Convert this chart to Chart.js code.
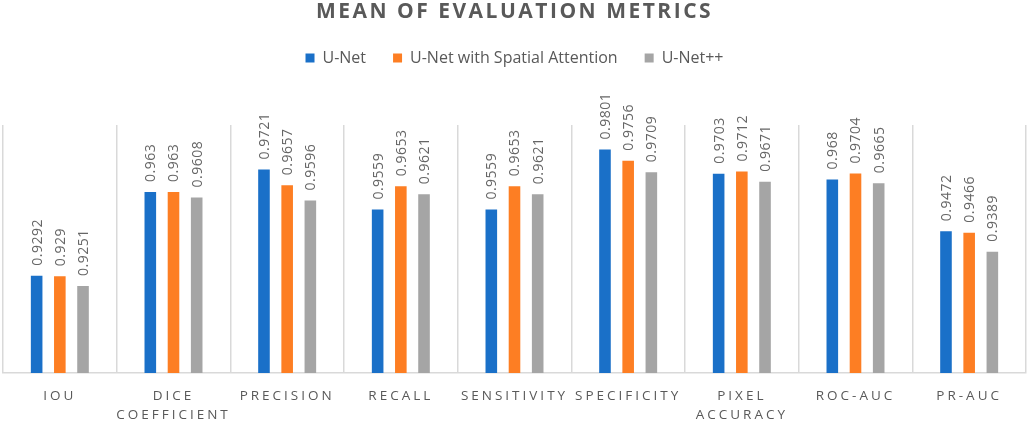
<!DOCTYPE html>
<html>
<head>
<meta charset="utf-8">
<script src="https://cdn.jsdelivr.net/npm/chart.js@4"></script>
<style>
  html, body { margin: 0; padding: 0; background: #fff; }
  #wrap { width: 1031px; height: 422px; }
</style>
</head>
<body>
<div id="wrap"><canvas id="chart"></canvas></div>
<script>
// データ
const chartTitle = 'MEAN OF EVALUATION METRICS';
const categories = ['IOU', ['DICE', 'COEFFICIENT'], 'PRECISION', 'RECALL', 'SENSITIVITY',
    'SPECIFICITY', ['PIXEL', 'ACCURACY'], 'ROC-AUC', 'PR-AUC'];
const seriesNames = ['U-Net', 'U-Net with Spatial Attention', 'U-Net++'];
const unetValues = [0.9292, 0.963, 0.9721, 0.9559, 0.9559, 0.9801, 0.9703, 0.968, 0.9472];
const attentionValues = [0.929, 0.963, 0.9657, 0.9653, 0.9653, 0.9756, 0.9712, 0.9704, 0.9466];
const unetppValues = [0.9251, 0.9608, 0.9596, 0.9621, 0.9621, 0.9709, 0.9671, 0.9665, 0.9389];

const colors = ['#1a70c8', '#fd7e23', '#a5a5a5'];
const textColor = '#595959';
const fontFamily = '"Open Sans", "DejaVu Sans", sans-serif';

// 軸ラベルに字間を付けるためのカテゴリ軸
class SpacedCategoryScale extends Chart.CategoryScale {
    drawLabels(chartArea) {
        const ctx = this.ctx;
        ctx.save();
        ctx.letterSpacing = '3px';
        super.drawLabels(chartArea);
        ctx.restore();
    }
}
SpacedCategoryScale.id = 'spacedCategory';
SpacedCategoryScale.defaults = Chart.CategoryScale.defaults;
Chart.register(SpacedCategoryScale);

// 凡例の下に余白を追加
const legendMargin = {
    id: 'legendMargin',
    beforeInit(chart) {
        const fit = chart.legend.fit;
        chart.legend.fit = function () {
            fit.bind(chart.legend)();
            this.height += 49;
        };
    }
};

// タイトル（字間付き）
const spacedTitle = {
    id: 'spacedTitle',
    afterDraw(chart) {
        const ctx = chart.ctx;
        ctx.save();
        ctx.letterSpacing = '2.5px';
        ctx.font = 'bold 21px ' + fontFamily;
        ctx.fillStyle = textColor;
        ctx.textAlign = 'center';
        ctx.textBaseline = 'middle';
        ctx.fillText(chartTitle, chart.width / 2 - 1, 12);
        ctx.restore();
    }
};

// 棒の上に縦書きの値ラベル
const valueLabels = {
    id: 'valueLabels',
    afterDatasetsDraw(chart) {
        const ctx = chart.ctx;
        ctx.save();
        ctx.font = '14px ' + fontFamily;
        ctx.fillStyle = '#666666';
        ctx.letterSpacing = '0.5px';
        ctx.textAlign = 'left';
        ctx.textBaseline = 'middle';
        chart.data.datasets.forEach((ds, i) => {
            const meta = chart.getDatasetMeta(i);
            meta.data.forEach((bar, j) => {
                ctx.save();
                ctx.translate(bar.x + 1, bar.y - 10);
                ctx.rotate(-Math.PI / 2);
                ctx.fillText(String(ds.data[j]), 0, 0);
                ctx.restore();
            });
        });
        ctx.restore();
    }
};

new Chart(document.getElementById('chart'), {
    type: 'bar',
    data: {
        labels: categories,
        datasets: [
            { label: seriesNames[0], data: unetValues, backgroundColor: colors[0] },
            { label: seriesNames[1], data: attentionValues, backgroundColor: colors[1] },
            { label: seriesNames[2], data: unetppValues, backgroundColor: colors[2] }
        ]
    },
    plugins: [legendMargin, spacedTitle, valueLabels],
    options: {
        responsive: true,
        maintainAspectRatio: false,
        animation: false,
        datasets: {
            bar: { categoryPercentage: 0.612, barPercentage: 0.5 }
        },
        layout: { padding: { top: 23, left: 3, right: 5, bottom: 0 } },
        plugins: {
            title: { display: false },
            tooltip: { enabled: false },
            legend: {
                position: 'top',
                labels: {
                    boxWidth: 9,
                    boxHeight: 9,
                    padding: 27,
                    color: textColor,
                    font: { family: fontFamily, size: 16 }
                }
            }
        },
        scales: {
            x: {
                type: 'spacedCategory',
                afterFit(scale) { scale.height = 49; },
                grid: { display: true, offset: true, drawTicks: false, color: '#d9d9d9', lineWidth: 1.5 },
                border: { display: true, color: '#d9d9d9', width: 1.5 },
                ticks: {
                    color: textColor,
                    maxRotation: 0,
                    autoSkip: false,
                    padding: 14,
                    font: { family: fontFamily, size: 13.5, lineHeight: 1.4 }
                }
            },
            y: {
                display: false,
                min: 0.89,
                max: 0.99
            }
        }
    }
});
</script>
</body>
</html>
